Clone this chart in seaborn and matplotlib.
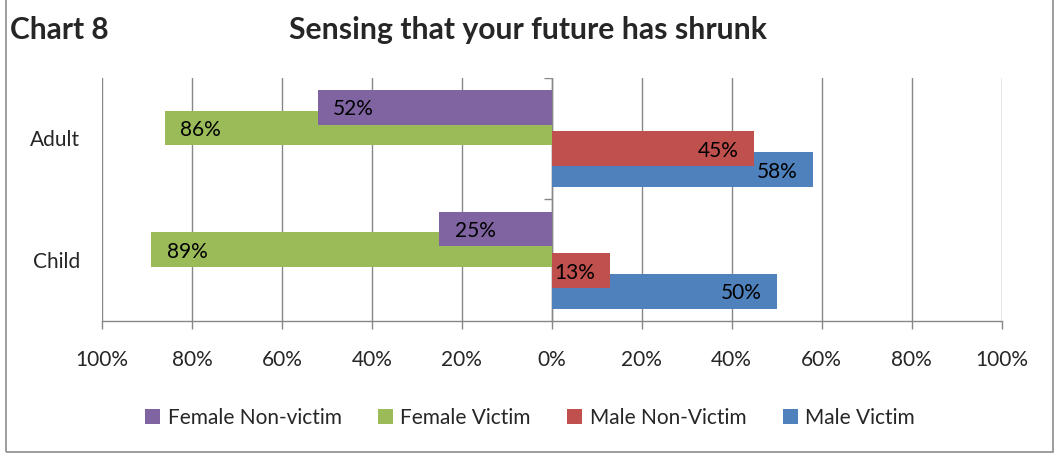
import matplotlib
matplotlib.use("Agg")
import matplotlib.pyplot as plt
from matplotlib.patches import Rectangle, Patch
import seaborn as sns
import pandas as pd

# DATA
groups = ["Adult", "Child"]
series = ["Female Non-victim", "Female Victim", "Male Non-Victim", "Male Victim"]
female_non_victim = [52, 25]
female_victim = [86, 89]
male_non_victim = [45, 13]
male_victim = [58, 50]
x_ticks = [-100, -80, -60, -40, -20, 0, 20, 40, 60, 80, 100]
colors = ["#8064A2", "#9BBB59", "#C0504D", "#4F81BD"]

# female bars go to the left
rows = []
for name, vals, sign in zip(series,
                            [female_non_victim, female_victim, male_non_victim, male_victim],
                            [-1, -1, 1, 1]):
    for g, v in zip(groups, vals):
        rows.append({"group": g, "series": name, "value": v, "signed": sign * v})
df = pd.DataFrame(rows)

sns.set_theme(style="white")
plt.rcParams["font.family"] = ["Lato", "DejaVu Sans"]
FS = 15

fig = plt.figure(figsize=(10.54, 4.63), dpi=100)
ax = fig.add_axes([0.0968, 0.3067, 0.8534, 0.5259])

sns.barplot(data=df, y="group", x="signed", hue="series", hue_order=series,
            order=groups, palette=colors, dodge=True, width=0.68, orient="h",
            saturation=1, errorbar=None, legend=False, ax=ax)

# Excel-style overlapping bars: make them taller, first series drawn on top
bar_h = 0.286
for i, cont in enumerate(ax.containers):
    for patch in cont:
        y0, h = patch.get_y(), patch.get_height()
        patch.set_y(y0 - (bar_h - h) / 2)
        patch.set_height(bar_h)
        patch.set_zorder(10 - i)
        patch.set_linewidth(0)
    for patch, v in zip(cont, df[df.series == series[i]].set_index("group").loc[groups, "value"]):
        w = patch.get_width()
        yc = patch.get_y() + bar_h / 2
        if w < 0:
            ax.annotate(f"{v}%", (w, yc), xytext=(11, -1.5), textcoords="offset points",
                        ha="left", va="center", fontsize=FS, color="black", zorder=20)
        else:
            ax.annotate(f"{v}%", (w, yc), xytext=(-11, -1.5), textcoords="offset points",
                        ha="right", va="center", fontsize=FS, color="black", zorder=20)

grid_c = "#878787"
ax.set_xlim(-100, 100)
ax.set_ylim(1.5, -0.5)
ax.set_xticks(x_ticks)
ax.set_xticklabels([f"{abs(t)}%" for t in x_ticks], fontsize=FS)
ax.tick_params(axis="x", bottom=True, length=6, width=1.0, color=grid_c, pad=15)
ax.tick_params(axis="y", left=False, length=0, pad=16, labelsize=FS)
ax.set_xlabel("")
ax.set_ylabel("")
ax.xaxis.grid(True, color=grid_c, linewidth=1.0)
ax.yaxis.grid(False)
ax.set_axisbelow(True)
for s in ["top", "right", "left"]:
    ax.spines[s].set_visible(False)
ax.spines["bottom"].set_color(grid_c)
ax.spines["bottom"].set_linewidth(1.0)

# vertical category axis at 0 with small ticks on the group boundaries
ax.axvline(0, color=grid_c, linewidth=1.0, zorder=1)
ax.hlines([-0.5, 0.5], -1.8, 0, color=grid_c, linewidth=1.0, zorder=1)

handles = [Patch(facecolor=c, edgecolor="none") for c in colors]
fig.legend(handles, series, loc="center", bbox_to_anchor=(0.503, 0.097), ncol=4,
           frameon=False, fontsize=FS, handlelength=0.72, handleheight=0.72,
           handletextpad=0.35, columnspacing=1.75)

fig.text(0.0095, 0.935, "Chart 8", fontsize=21.5, fontweight="bold", va="center", ha="left")
fig.text(0.501, 0.935, "Sensing that your future has shrunk", fontsize=21.7,
         fontweight="bold", va="center", ha="center")

fig.add_artist(Rectangle((0.0055, 0.024), 0.9935, 1.1, transform=fig.transFigure,
                         fill=False, edgecolor="#8c8c8c", linewidth=1.2))

fig.savefig("out.png", dpi=100)
